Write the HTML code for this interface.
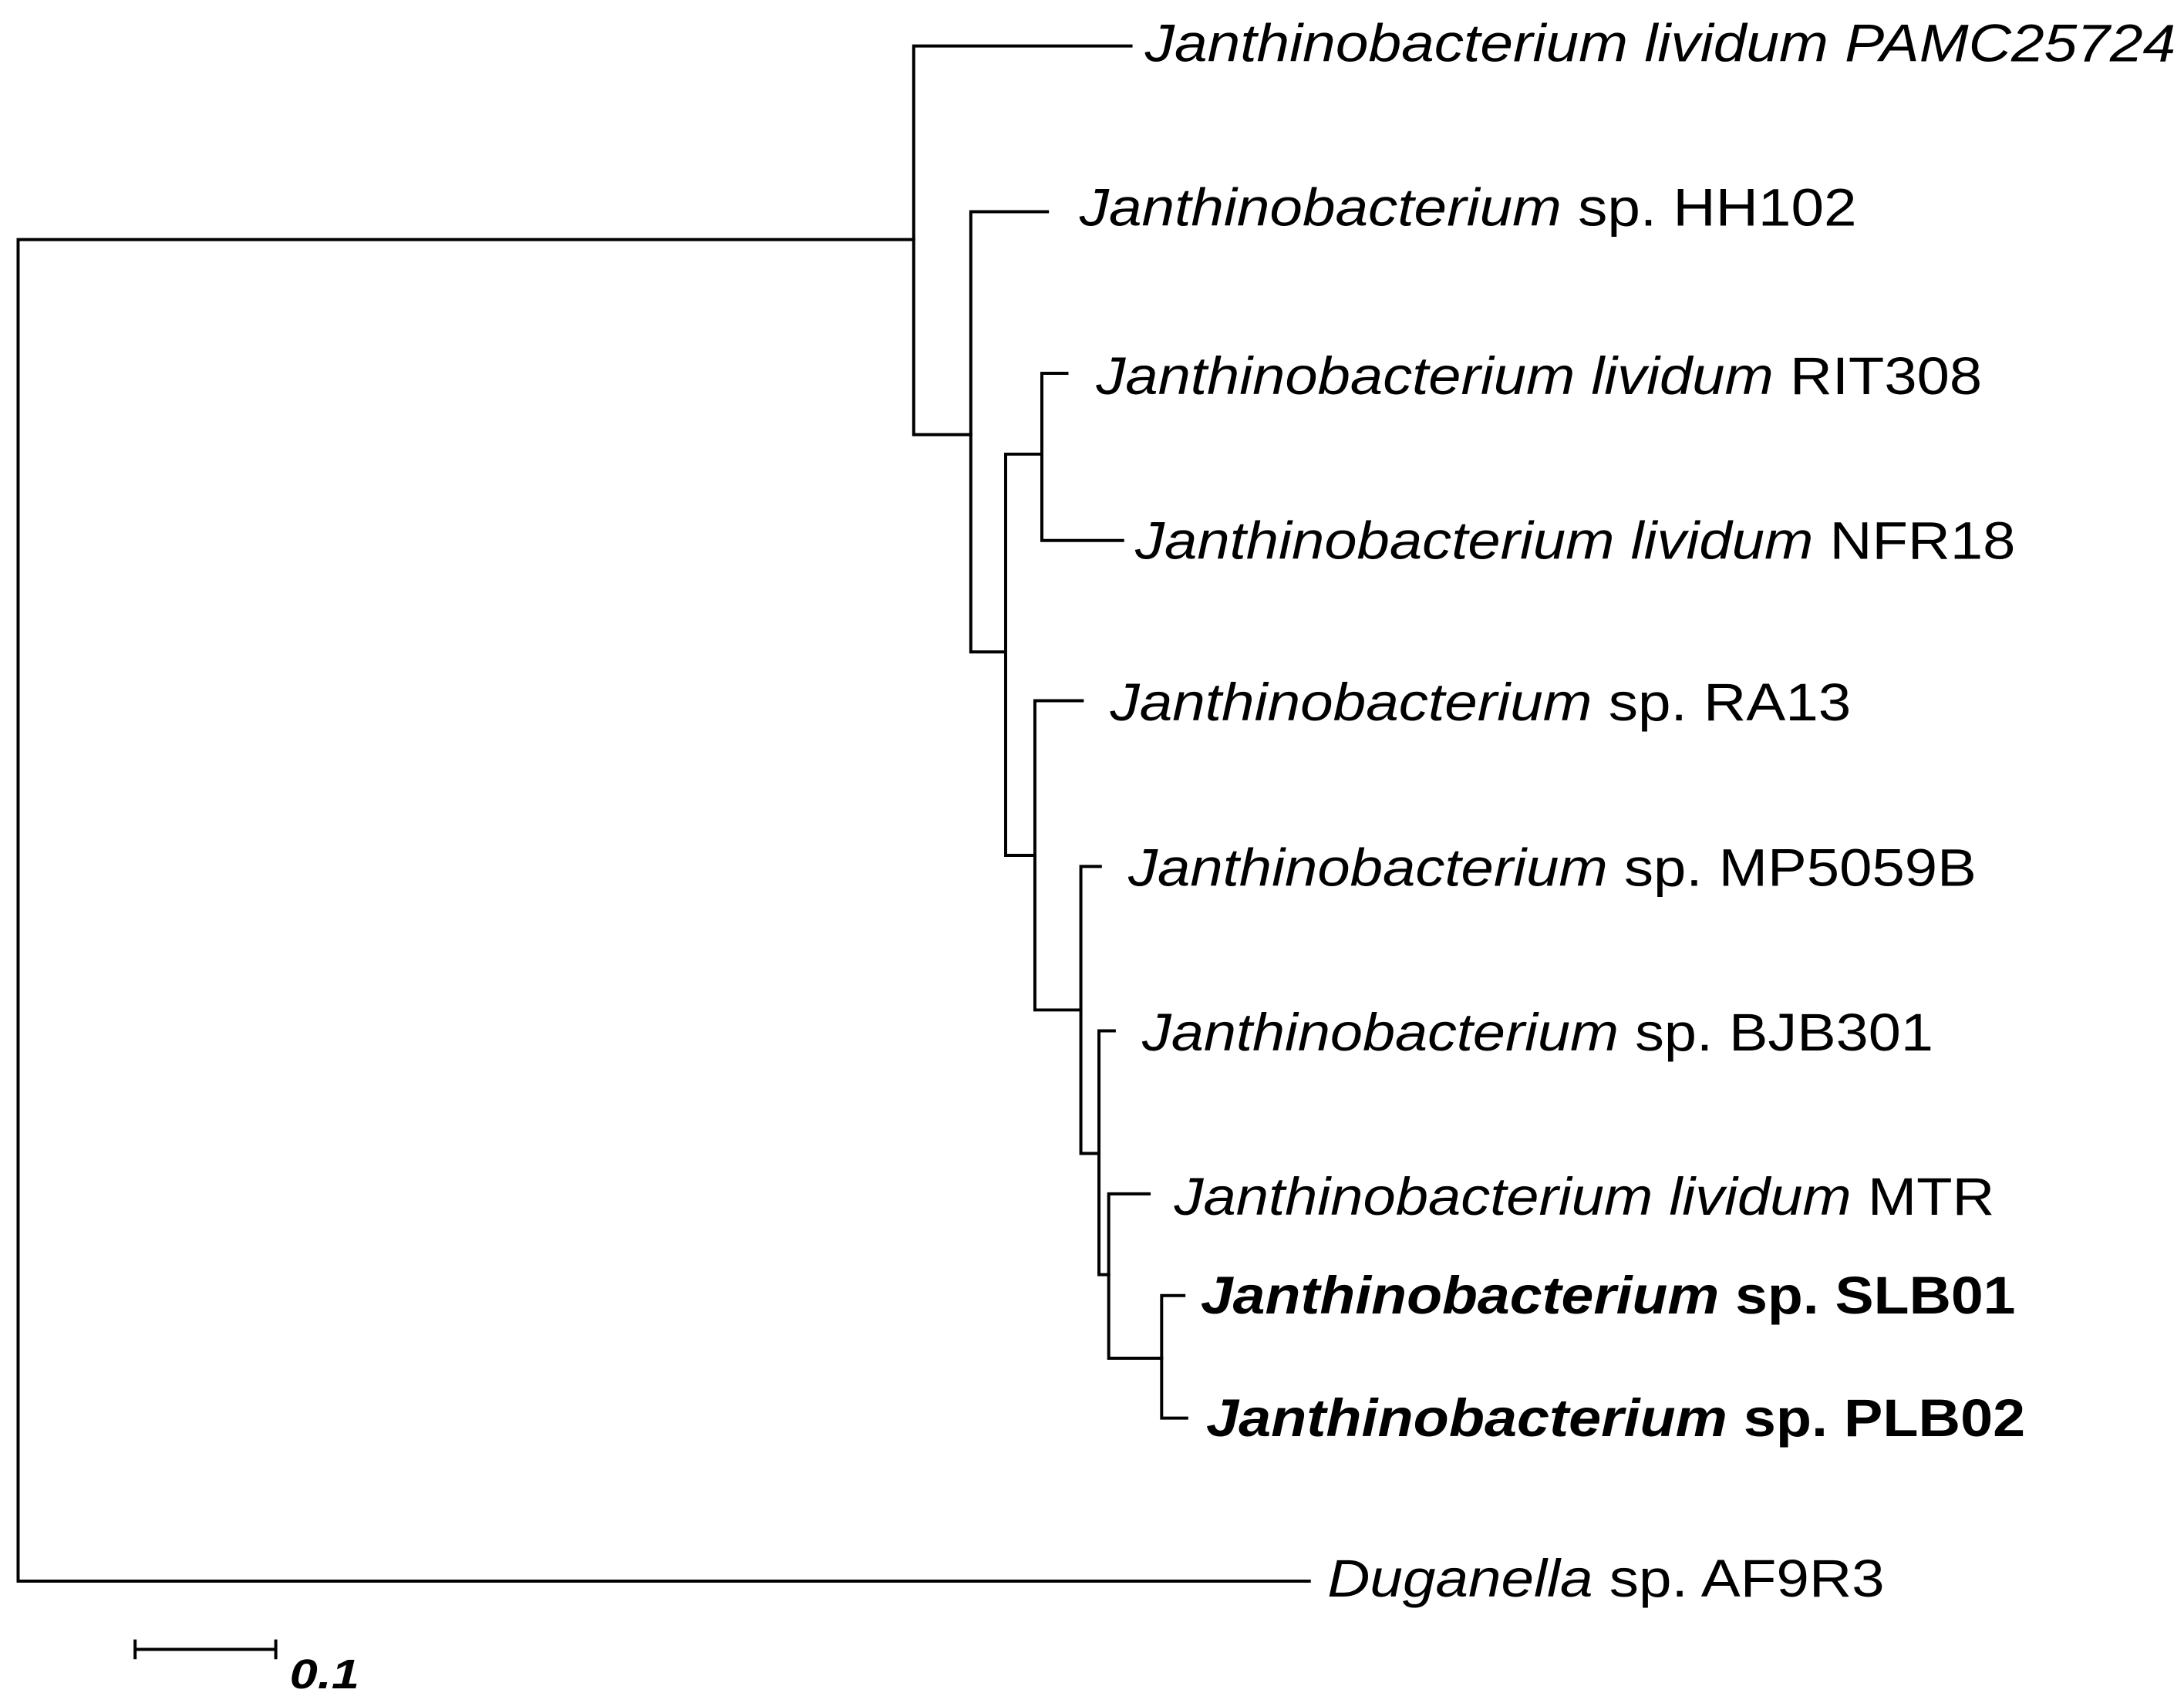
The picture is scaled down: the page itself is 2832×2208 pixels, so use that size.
<!DOCTYPE html>
<html><head><meta charset="utf-8"><style>
html,body{margin:0;padding:0;background:#fff;}
svg{display:block;}
text{font-family:"Liberation Sans",Arial,sans-serif;font-size:38px;fill:#000;}
</style></head><body>
<svg width="2832" height="2208" viewBox="0 0 1568 1222.5" preserveAspectRatio="none" xmlns="http://www.w3.org/2000/svg">
<g stroke="#000" stroke-width="2.2" fill="none" stroke-linecap="square">
<path d="M13 172V1135M13 172H656M13 1135H940"/>
<path d="M656 33V312M656 33H812M656 312H697"/>
<path d="M697 152V468M697 152H752M697 468H722"/>
<path d="M722 326V614M722 326H748M722 614H743"/>
<path d="M748 268V388M748 268H766M748 388H806"/>
<path d="M743 503V725M743 503H777M743 725H776"/>
<path d="M776 622V828M776 622H790M776 828H789"/>
<path d="M789 740V915M789 740H800M789 915H796"/>
<path d="M796 857V975M796 857H825M796 975H834"/>
<path d="M834 930V1018M834 930H850M834 1018H852"/>
<path d="M97 1184H198M97 1178V1190M198 1178V1190"/>
</g>
<text x="822" y="44" textLength="740" lengthAdjust="spacingAndGlyphs" font-style="italic">Janthinobacterium lividum PAMC25724</text>
<text x="775" y="162" textLength="558" lengthAdjust="spacingAndGlyphs"><tspan font-style="italic">Janthinobacterium</tspan> sp. HH102</text>
<text x="787" y="283" textLength="636" lengthAdjust="spacingAndGlyphs"><tspan font-style="italic">Janthinobacterium lividum</tspan> RIT308</text>
<text x="815" y="401" textLength="632" lengthAdjust="spacingAndGlyphs"><tspan font-style="italic">Janthinobacterium lividum</tspan> NFR18</text>
<text x="797" y="517" textLength="532" lengthAdjust="spacingAndGlyphs"><tspan font-style="italic">Janthinobacterium</tspan> sp. RA13</text>
<text x="810" y="636" textLength="609" lengthAdjust="spacingAndGlyphs"><tspan font-style="italic">Janthinobacterium</tspan> sp. MP5059B</text>
<text x="820" y="754" textLength="568" lengthAdjust="spacingAndGlyphs"><tspan font-style="italic">Janthinobacterium</tspan> sp. BJB301</text>
<text x="843" y="872" textLength="589" lengthAdjust="spacingAndGlyphs"><tspan font-style="italic">Janthinobacterium lividum</tspan> MTR</text>
<text x="862" y="943" textLength="585" lengthAdjust="spacingAndGlyphs" font-weight="bold"><tspan font-style="italic">Janthinobacterium</tspan> sp. SLB01</text>
<text x="866" y="1031" textLength="588" lengthAdjust="spacingAndGlyphs" font-weight="bold"><tspan font-style="italic">Janthinobacterium</tspan> sp. PLB02</text>
<text x="953" y="1146" textLength="400" lengthAdjust="spacingAndGlyphs"><tspan font-style="italic">Duganella</tspan> sp. AF9R3</text>
<text x="208" y="1212" textLength="50" lengthAdjust="spacingAndGlyphs" font-weight="bold" font-style="italic" style="font-size:30px">0.1</text>
</svg>
</body></html>
